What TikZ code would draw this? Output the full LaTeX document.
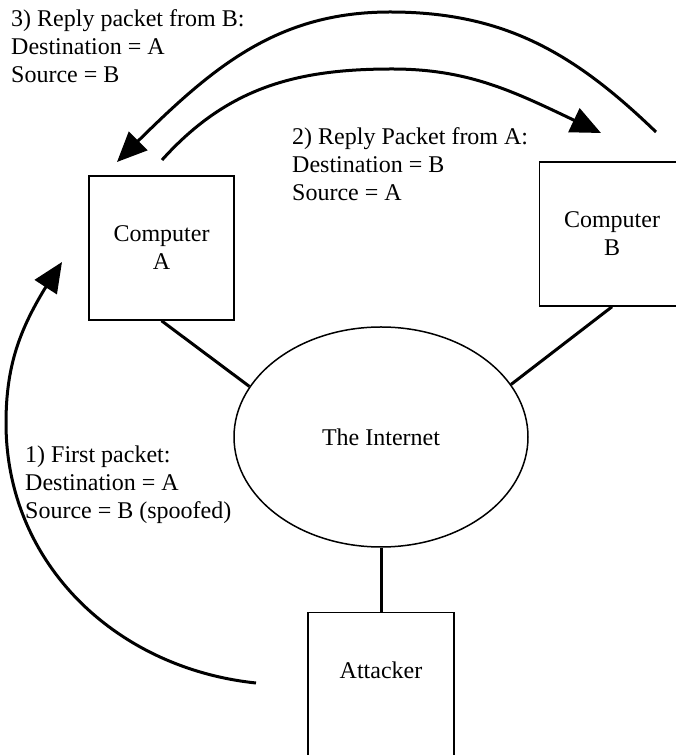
\documentclass[tikz,border=0pt]{standalone}
\usepackage{fontspec}
\setmainfont{Liberation Serif}
\usetikzlibrary{arrows.meta,shapes.geometric,bending}
\begin{document}
\begin{tikzpicture}[x=1pt,y=1pt,
  every node/.style={font=\fontsize{24}{28}\selectfont},
  hostbox/.style={draw, line width=1.5pt, minimum width=145pt, minimum height=144pt, inner sep=0pt, align=center},
  cloud/.style={draw, ellipse, line width=1.5pt, minimum width=294pt, minimum height=220pt, inner sep=0pt},
  link/.style={line width=3pt},
  flow/.style={line width=3pt, -{Triangle[length=30pt,width=26pt]}},
  note/.style={align=left, inner sep=0pt, anchor=base west}]
\useasboundingbox (0,0) rectangle (676,755);

% hosts and the network
\node[hostbox] (A) at (161.5,507) {Computer\\A};
\node[hostbox] (B) at (612,521) {Computer\\B};
\node[cloud] (net) at (381,318) {The Internet};
\node[draw, line width=1.5pt, minimum width=146pt, minimum height=170pt, inner sep=0pt, anchor=north] (att) at (381,143) {};
\node[anchor=base] (attname) at (381,76) {Attacker};

% physical links
\draw[link] (A.south) -- (net.159.5);
\draw[link] (B.south) -- (net.22.3);
\draw[link] (net.south) -- (att.north);

% packet flows
\coordinate (s1) at (256,72);
\coordinate (w1) at (6,332);
\coordinate (t1) at (62,493);
\draw[flow] (s1) to[out=174,in=270] (w1) to[out=90,in=236] (t1);

\coordinate (s2) at (162,595);
\coordinate (p2) at (392,686);
\coordinate (t2) at (601,622);
\draw[flow] (s2) to[out=48,in=180] (p2) to[out=0,in=155] (t2);

\coordinate (s3) at (656,623);
\coordinate (p3) at (390,743);
\coordinate (t3) at (117,593);
\draw[flow] (s3) to[out=136,in=0] (p3) to[out=180,in=45] (t3);

% packet descriptions (anchored at the baseline of the last line)
\node[note] (n1) at (25,236) {1) First packet:\\Destination = A\\Source = B (spoofed)};
\node[note] (n2) at (292,554) {2) Reply Packet from A:\\Destination = B\\Source = A};
\node[note] (n3) at (11,672) {3) Reply packet from B:\\Destination = A\\Source = B};
\end{tikzpicture}
\end{document}
